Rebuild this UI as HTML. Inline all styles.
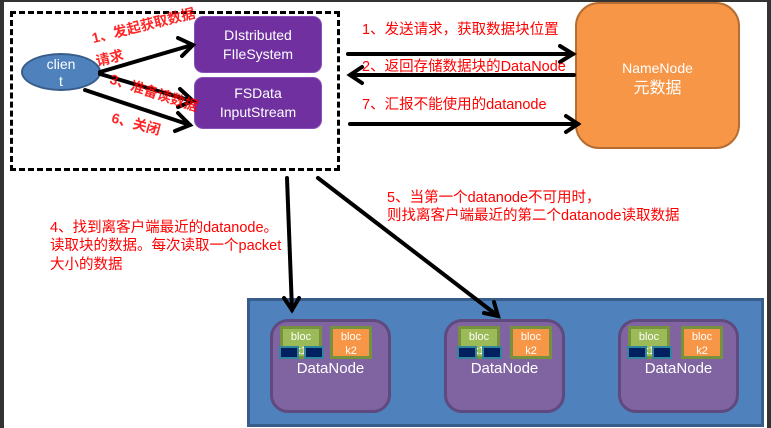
<!DOCTYPE html>
<html><head><meta charset="utf-8"><style>
body{margin:0;width:771px;height:428px;overflow:hidden;background:#fff;position:relative;font-family:"Liberation Sans","Noto Sans CJK SC",sans-serif}
.a{position:absolute}
.red{color:#f00;font-size:14.5px;white-space:nowrap;line-height:18px}
.rot{color:#f00;font-size:14px;font-weight:bold;white-space:nowrap;line-height:16px;transform-origin:left bottom;opacity:.85}
.pb{background:#7030a0;border-radius:9px;color:#fff;font-size:14px;text-align:center;line-height:19px;box-sizing:border-box;border:1px solid #8a50b8}
.dn{background:#8064a2;border:3px solid #5f4a80;border-radius:18px;box-sizing:border-box;width:121px;height:94px;top:319px}
.dn .t{position:absolute;top:38px;left:0;right:0;text-align:center;color:#fff;font-size:15px}
.b{position:absolute;top:4px;width:42px;height:33px;box-sizing:border-box;border:3px solid #76923c;color:#fff;font-size:11px;text-align:center;line-height:14px;padding-top:1px}
.g{left:7px;background:#9bbb59}.o{left:57px;background:#f79646}
.s{position:absolute;top:24px;width:16px;height:9px;background:#002060;border:2px solid #31859c}
</style></head><body>
<div class="a" style="left:0;top:0;width:4px;height:428px;background:#333"></div>
<div class="a" style="left:0;top:0;width:771px;height:2px;background:#333"></div>
<div class="a" style="left:767px;top:0;width:4px;height:428px;background:#333"></div>
<div class="a" style="left:10px;top:11px;width:330px;height:160px;border:3px dashed #000;box-sizing:border-box"></div>
<div class="a" style="left:21px;top:53px;width:80px;height:38px;border-radius:50%;background:#4f81bd;border:2px solid #385d8a;box-sizing:border-box;color:#fff;font-size:14px;text-align:center;line-height:17px;padding-top:1px">clien<br>t</div>
<div class="a pb" style="left:194px;top:16px;width:128px;height:57px;padding-top:9px">DIstributed<br>FIleSystem</div>
<div class="a pb" style="left:194px;top:77px;width:128px;height:52px;padding-top:6px">FSData<br>InputStream</div>
<div class="a" style="left:575px;top:2px;width:165px;height:147px;background:#f79646;border:2px solid #b66d31;border-radius:24px;box-sizing:border-box;color:#fff;font-size:14px;text-align:center;padding-top:54px;line-height:20px">NameNode<br><span style="font-size:16px">元数据</span></div>
<div class="a" style="left:247px;top:298px;width:517px;height:129px;background:#4f81bd;border:3px solid #385d8a;box-sizing:border-box"></div>
<div class="a dn" style="left:270px"><div class="b g">bloc<br>k1</div><div class="b o">bloc<br>k2</div><div class="s" style="left:6px"></div><div class="s" style="left:31px"></div><div class="t">DataNode</div></div>
<div class="a dn" style="left:444px"><div class="b g" style="left:11px">bloc<br>k1</div><div class="b o" style="left:63px">bloc<br>k2</div><div class="s" style="left:10px"></div><div class="s" style="left:35px"></div><div class="t">DataNode</div></div>
<div class="a dn" style="left:618px"><div class="b g">bloc<br>k1</div><div class="b o" style="left:60px">bloc<br>k2</div><div class="s" style="left:6px"></div><div class="s" style="left:31px"></div><div class="t">DataNode</div></div>
<svg class="a" style="left:0;top:0" width="771" height="428">
<g stroke="#000" stroke-width="4" fill="none" stroke-linecap="round">
<line x1="100" y1="72" x2="192" y2="45"/><polyline points="178,38 193,45 182,56"/>
<line x1="100" y1="74" x2="192" y2="101"/><polyline points="180,89 193,101 178,107"/>
<line x1="85" y1="90" x2="190" y2="125"/><polyline points="178,113 190,125 175,131"/>
<line x1="348" y1="54" x2="573" y2="54"/><polyline points="560,46 573,54 560,62"/>
<line x1="352" y1="75" x2="574" y2="75"/><polyline points="362,67 350,75 362,83"/>
<line x1="350" y1="124" x2="578" y2="124"/><polyline points="566,116 578,124 566,132"/>
<line x1="287" y1="178" x2="292" y2="310"/><polyline points="284,298 292,310 299,298"/>
<line x1="318" y1="178" x2="498" y2="316"/><polyline points="484,313 498,316 494,302"/>
</g></svg>
<div class="a rot" style="left:94px;top:30px;transform:rotate(-14deg)">1、发起获取数据</div>
<div class="a rot" style="left:98px;top:53px;transform:rotate(-14deg)">请求</div>
<div class="a rot" style="left:108px;top:70px;transform:rotate(18deg)">3、准备读数据</div>
<div class="a rot" style="left:110px;top:109px;transform:rotate(15deg)">6、关闭</div>
<div class="a red" style="left:362px;top:21px">1、发送请求，获取数据块位置</div>
<div class="a red" style="left:362px;top:58px">2、返回存储数据块的DataNode</div>
<div class="a red" style="left:362px;top:96px">7、汇报不能使用的datanode</div>
<div class="a red" style="left:387px;top:189px">5、当第一个datanode不可用时，</div>
<div class="a red" style="left:387px;top:207px">则找离客户端最近的第二个datanode读取数据</div>
<div class="a red" style="left:50px;top:219px">4、找到离客户端最近的datanode。</div>
<div class="a red" style="left:50px;top:237px">读取块的数据。每次读取一个packet</div>
<div class="a red" style="left:50px;top:256px">大小的数据</div>
</body></html>
